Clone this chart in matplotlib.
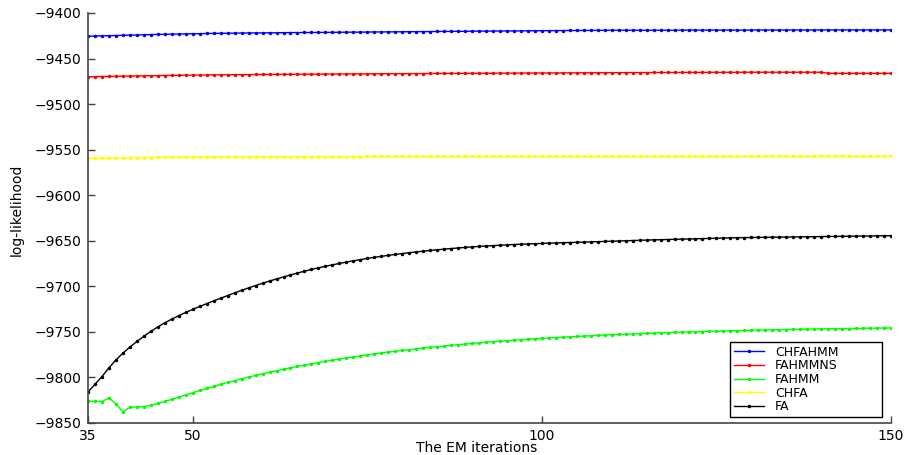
import matplotlib
matplotlib.use("Agg")
import matplotlib.pyplot as plt

iterations = list(range(35, 151))

chfahmm = [
    -9425.5, -9425.3, -9425.1, -9424.9, -9424.7, -9424.5, -9424.3, -9424.1, -9423.9, -9423.7,
    -9423.5, -9423.4, -9423.2, -9423.1, -9422.9, -9422.8, -9422.7, -9422.5, -9422.4, -9422.3,
    -9422.2, -9422.1, -9422.0, -9421.9, -9421.9, -9421.8, -9421.7, -9421.7, -9421.6, -9421.5,
    -9421.5, -9421.4, -9421.4, -9421.3, -9421.3, -9421.2, -9421.1, -9421.1, -9421.0, -9421.0,
    -9420.9, -9420.8, -9420.8, -9420.7, -9420.7, -9420.6, -9420.5, -9420.5, -9420.4, -9420.4,
    -9420.3, -9420.2, -9420.2, -9420.1, -9420.1, -9420.0, -9419.9, -9419.9, -9419.8, -9419.8,
    -9419.7, -9419.7, -9419.6, -9419.5, -9419.5, -9419.4, -9419.4, -9419.3, -9419.3, -9419.2,
    -9419.2, -9419.1, -9419.1, -9419.0, -9419.0, -9418.9, -9418.9, -9418.9, -9418.9, -9418.9,
    -9418.9, -9418.9, -9418.9, -9418.9, -9418.9, -9418.8, -9418.8, -9418.8, -9418.8, -9418.8,
    -9418.8, -9418.8, -9418.8, -9418.8, -9418.8, -9418.7, -9418.7, -9418.7, -9418.7, -9418.7,
    -9418.7, -9418.7, -9418.7, -9418.7, -9418.7, -9418.6, -9418.6, -9418.6, -9418.6, -9418.6,
    -9418.6, -9418.6, -9418.6, -9418.6, -9418.6, -9418.6,
]

fahmmns = [
    -9470.0, -9469.9, -9469.7, -9469.6, -9469.5, -9469.3, -9469.2, -9469.1, -9469.0, -9468.8,
    -9468.7, -9468.6, -9468.5, -9468.4, -9468.3, -9468.2, -9468.1, -9468.0, -9467.9, -9467.9,
    -9467.8, -9467.7, -9467.7, -9467.6, -9467.5, -9467.5, -9467.4, -9467.4, -9467.3, -9467.3,
    -9467.2, -9467.2, -9467.1, -9467.1, -9467.0, -9467.0,
    -9466.9, -9466.9, -9466.8, -9466.8, -9466.8, -9466.7, -9466.7, -9466.6, -9466.6, -9466.6,
    -9466.5, -9466.5, -9466.5, -9466.4, -9466.4, -9466.3, -9466.3, -9466.3, -9466.2, -9466.2,
    -9466.2, -9466.1, -9466.1, -9466.0, -9466.0, -9466.0, -9465.9, -9465.9, -9465.9, -9465.8,
    -9465.8, -9465.8, -9465.7, -9465.7, -9465.7, -9465.6, -9465.6, -9465.6, -9465.5, -9465.5,
    -9465.5, -9465.4, -9465.4, -9465.4, -9465.4, -9465.3, -9465.3, -9465.3, -9465.3, -9465.2,
    -9465.2, -9465.2, -9465.2, -9465.1, -9465.1, -9465.1, -9465.1, -9465.1, -9465.0, -9465.0,
    -9465.0, -9465.0, -9465.0, -9465.0, -9465.0, -9465.0, -9465.0, -9465.0, -9465.0, -9465.0,
    -9466.2, -9466.2, -9466.2, -9466.2, -9466.2, -9466.2, -9466.2, -9466.2, -9466.2, -9466.2,
]

fahmm = [
    -9826.0, -9826.0, -9826.5, -9822.5, -9829.0, -9838.0, -9832.5, -9832.5, -9832.0, -9830.5,
    -9828.5, -9826.3, -9824.0, -9821.6,
    -9819.2, -9816.7, -9814.3, -9812.0, -9809.8, -9807.6, -9805.5, -9803.5, -9801.5, -9799.6,
    -9797.8, -9796.0, -9794.3, -9792.6, -9791.0, -9789.4, -9787.9, -9786.5, -9785.1, -9783.7,
    -9782.4, -9781.1, -9779.8, -9778.6, -9777.5, -9776.4, -9775.3, -9774.2, -9773.2, -9772.2,
    -9771.3, -9770.4, -9769.5, -9768.6, -9767.8, -9767.0, -9766.2, -9765.4, -9764.7, -9764.0,
    -9763.3, -9762.7, -9762.0, -9761.4, -9760.8, -9760.2, -9759.7, -9759.1, -9758.6, -9758.1,
    -9757.6, -9757.1, -9756.7, -9756.2, -9755.8, -9755.4, -9755.0, -9754.6, -9754.2, -9753.8,
    -9753.5, -9753.1, -9752.8, -9752.5, -9752.2, -9751.9, -9751.6, -9751.3, -9751.0, -9750.8,
    -9750.5, -9750.3, -9750.0, -9749.8, -9749.6, -9749.4, -9749.2, -9749.0, -9748.8, -9748.6,
    -9748.4, -9748.2, -9748.0, -9747.9, -9747.7, -9747.6, -9747.4, -9747.3, -9747.1, -9747.0,
    -9746.9, -9746.7, -9746.6, -9746.5, -9746.4, -9746.3, -9746.2, -9746.1, -9746.0, -9745.9,
    -9745.8, -9745.7,
]

chfa = [
    -9559.5, -9559.4, -9559.3, -9559.2, -9559.1, -9559.0, -9558.9, -9558.8, -9558.7, -9558.6,
    -9558.5, -9558.4, -9558.4, -9558.3, -9558.2, -9558.2, -9558.1, -9558.1, -9558.0, -9558.0,
    -9557.9, -9557.9, -9557.9, -9557.8, -9557.8, -9557.8, -9557.7, -9557.7, -9557.7, -9557.7,
    -9557.6, -9557.6, -9557.6, -9557.6, -9557.6, -9557.6, -9557.6, -9557.6, -9557.6, -9557.6,
    -9557.5, -9557.5, -9557.5, -9557.5, -9557.5, -9557.5, -9557.5, -9557.5, -9557.5, -9557.5,
    -9557.5, -9557.5, -9557.5, -9557.5, -9557.5,
    -9557.4, -9557.4, -9557.4, -9557.4, -9557.4, -9557.4, -9557.4, -9557.4, -9557.4, -9557.4,
    -9557.4, -9557.4, -9557.4, -9557.4, -9557.4, -9557.4, -9557.4, -9557.4, -9557.4, -9557.4,
    -9557.3, -9557.3, -9557.3, -9557.3, -9557.3, -9557.3, -9557.3, -9557.3, -9557.3, -9557.3,
    -9557.3, -9557.3, -9557.3, -9557.3, -9557.3, -9557.3, -9557.3, -9557.3, -9557.3, -9557.3,
    -9557.2, -9557.2, -9557.2, -9557.2, -9557.2, -9557.2, -9557.2, -9557.2, -9557.2, -9557.2,
    -9557.2, -9557.2, -9557.2, -9557.2, -9557.2, -9557.2, -9557.2, -9557.2, -9557.2, -9557.2,
    -9557.2,
]

fa = [
    -9816.0, -9807.5, -9799.0, -9789.5, -9780.8, -9773.3, -9766.6, -9760.5, -9754.8, -9749.5,
    -9744.5, -9740.0, -9736.0, -9732.2, -9728.6, -9725.3, -9722.1, -9719.0, -9716.0, -9713.0,
    -9710.1, -9707.2, -9704.4, -9701.7, -9699.1, -9696.6, -9694.2, -9691.9, -9689.7, -9687.5,
    -9685.4, -9683.4, -9681.5, -9679.7, -9678.0, -9676.4, -9674.9, -9673.4, -9672.0, -9670.7,
    -9669.4, -9668.2, -9667.1, -9666.0, -9665.0, -9664.0, -9663.1, -9662.2, -9661.4, -9660.6,
    -9659.9, -9659.2, -9658.5, -9657.9, -9657.3, -9656.7, -9656.2, -9655.7, -9655.3, -9654.9,
    -9654.5, -9654.1, -9653.8, -9653.5, -9653.2, -9652.9, -9652.6, -9652.4, -9652.1, -9651.9,
    -9651.7, -9651.5, -9651.2, -9651.0, -9650.7, -9650.5, -9650.2, -9650.0, -9649.7, -9649.5,
    -9649.2, -9649.0, -9648.8, -9648.6, -9648.4, -9648.2, -9648.0, -9647.8, -9647.6, -9647.4,
    -9647.2, -9647.0, -9646.8, -9646.6, -9646.5, -9646.4, -9646.3, -9646.2, -9646.1, -9646.0,
    -9645.9, -9645.8, -9645.7, -9645.6, -9645.5, -9645.4, -9645.3, -9645.2, -9645.1, -9645.0,
    -9644.9, -9644.8, -9644.7, -9644.6, -9644.5, -9644.4,
]

series_names = ["CHFAHMM", "FAHMMNS", "FAHMM", "CHFA", "FA"]
series_values = [chfahmm, fahmmns, fahmm, chfa, fa]
series_colors = ["#0000ff", "#ff0000", "#00ff00", "#ffff00", "#000000"]

x_ticks = [35, 50, 100, 150]
y_ticks = list(range(-9850, -9399, 50))

plt.rcParams["font.family"] = ["DejaVu Sans"]

fig = plt.figure(figsize=(9.06, 4.55), dpi=100, facecolor="white")
ax = fig.add_axes([88 / 906, 1 - 423 / 455, 803 / 906, 410 / 455])

for name, vals, col in zip(series_names, series_values, series_colors):
    ax.plot(iterations, vals, color=col, lw=1.0, marker=".", markersize=3,
            label=name)

ax.set_xlim(35, 150)
ax.set_ylim(-9850, -9400)
ax.set_xticks(x_ticks)
ax.set_yticks(y_ticks)

for side in ["top", "right"]:
    ax.spines[side].set_visible(False)
for side in ["left", "bottom"]:
    ax.spines[side].set_color("#444444")
    ax.spines[side].set_linewidth(1.2)

ax.tick_params(direction="in", length=5, width=1, colors="#444444",
               labelcolor="black", labelsize=10, pad=4.5)

ax.set_xlabel("The EM iterations", fontsize=10, labelpad=0)
ax.xaxis.set_label_coords(0.484, -0.045, transform=ax.transAxes)
ax.xaxis.label.set_va("top")
ax.set_ylabel("log-likelihood", fontsize=10)
ax.yaxis.set_label_coords(-0.08, 0.52)

leg = ax.legend(loc="lower left", bbox_to_anchor=(0.7995, 0.0146, 0.1893, 0.17),
                mode="expand", fontsize=9, frameon=True, fancybox=False,
                edgecolor="black", framealpha=1, numpoints=1, handlelength=2.4,
                handletextpad=0.9, labelspacing=0.05, borderpad=0.3,
                borderaxespad=0)
leg.get_frame().set_linewidth(1.0)

fig.savefig("out.png", dpi=100, facecolor="white")
